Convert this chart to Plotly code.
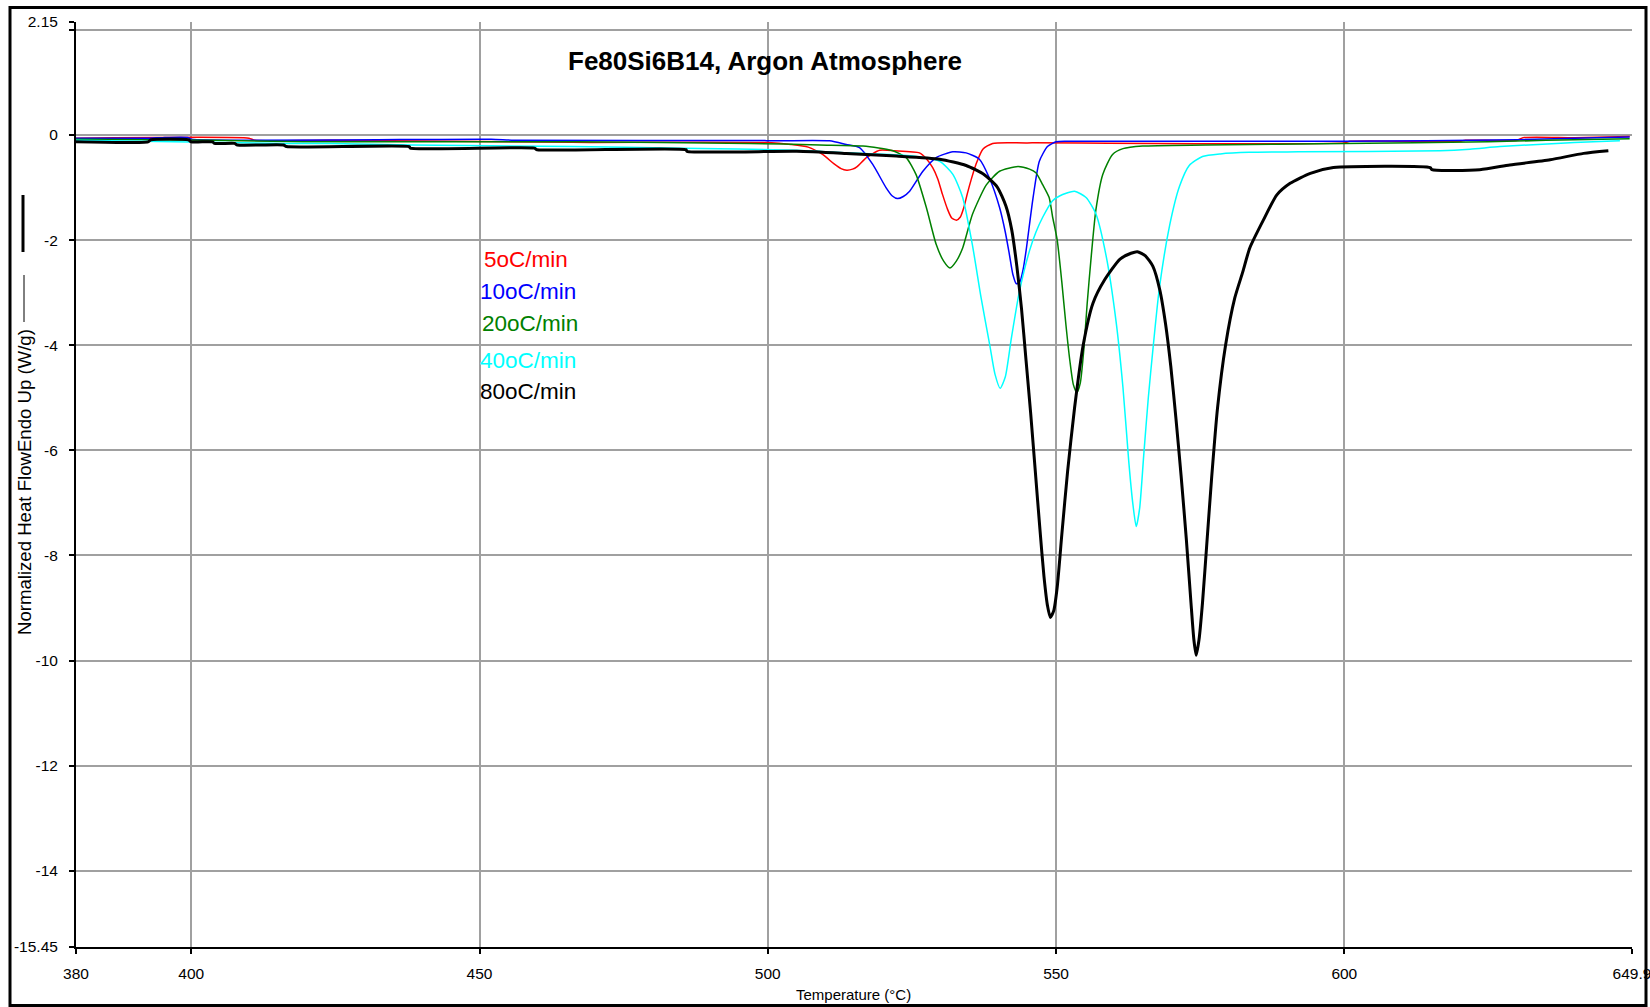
import plotly.graph_objects as go

# ---------------- data ----------------
T_5 = [380, 410, 411, 424, 466, 500, 504, 507, 509.5, 511.5, 512.7, 513.7, 514.7, 515.5, 517.1, 519.4, 522,
       526.3, 527.5, 528.6, 529.5, 530.3, 531.2, 531.9, 532.7, 533.4, 534.0, 534.6, 535.3, 536.1, 537.3,
       539, 545, 600, 601, 620, 621, 630, 631, 640, 649.5]
HF_5 = [-0.06, -0.06, -0.10, -0.10, -0.14, -0.145, -0.18, -0.23, -0.37, -0.55, -0.64, -0.67, -0.65, -0.60,
        -0.43, -0.29, -0.30, -0.34, -0.45, -0.62, -0.84, -1.13, -1.42, -1.58, -1.62, -1.56, -1.38, -1.12,
        -0.84, -0.56, -0.27, -0.16, -0.15, -0.15, -0.12, -0.12, -0.10, -0.10, -0.05, -0.05, -0.03]

T_10 = [380, 392.8, 395, 399.5, 400, 452, 456, 499.5, 500, 510.7, 513.6, 515.9, 518.2, 520.5, 521.6, 522.5,
        523.5, 524.6, 526.9, 529.2, 532.1, 534.4, 536.7, 538.4, 540.2, 541.2, 541.9, 542.5, 543.1, 543.7,
        544.3, 544.8, 546, 547.1, 548.5, 550, 552, 600, 630, 640, 649.5]
HF_10 = [-0.06, -0.06, -0.05, -0.05, -0.08, -0.08, -0.10, -0.105, -0.11, -0.11, -0.18, -0.24, -0.56, -1.0,
         -1.16, -1.21, -1.17, -1.07, -0.69, -0.43, -0.32, -0.34, -0.46, -0.81, -1.38, -1.85, -2.27, -2.65,
         -2.83, -2.80, -2.55, -2.20, -1.2, -0.5, -0.22, -0.13, -0.12, -0.12, -0.09, -0.06, -0.04]

T_20 = [380, 403.7, 414, 424, 467, 497, 509, 516.5, 521.7, 524, 525.7, 527.5, 529.2, 530.5, 531.6, 532.7,
        533.8, 535.5, 537.9, 540.2, 543.4, 545.4, 546.5, 547.7, 548.8, 549.4, 550.2, 551.0, 551.7, 552.4,
        553.0, 553.6, 554.2, 554.8, 555.4, 556.1, 556.9, 558.1, 559.8, 561.6, 565, 576, 600, 625, 635, 649.5]
HF_20 = [-0.08, -0.10, -0.12, -0.13, -0.13, -0.16, -0.19, -0.21, -0.30, -0.43, -0.75, -1.38, -2.08, -2.40,
         -2.53, -2.40, -2.15, -1.51, -0.95, -0.69, -0.60, -0.65, -0.72, -0.95, -1.19, -1.56, -2.0, -2.8,
         -3.6, -4.3, -4.75, -4.90, -4.72, -4.1, -3.2, -2.31, -1.43, -0.75, -0.37, -0.26, -0.21, -0.19, -0.16,
         -0.13, -0.10, -0.07]

T_40 = [380, 416, 424, 438, 466, 485, 505, 513.6, 525.1, 529.8, 532.1, 533.8, 535.5, 537, 538.5, 539.4,
        540.3, 541.2, 542.2, 543.6, 545.4, 546.5, 547.7, 549.4, 550.6, 553.2, 555.2, 556.9, 558.7, 560.4,
        561.6, 562.6, 563.3, 563.9, 564.5, 565.2, 566.0, 566.8, 567.9, 569.7, 571.4, 573.1, 575.4, 578.5,
        583.5, 592, 616.6, 621.8, 627, 636.8, 643.2, 647.8]
HF_40 = [-0.10, -0.16, -0.16, -0.19, -0.22, -0.25, -0.29, -0.34, -0.40, -0.50, -0.75, -1.19, -2.1, -3.1,
         -4.0, -4.55, -4.82, -4.6, -3.9, -3.0, -2.2, -1.85, -1.56, -1.25, -1.16, -1.07, -1.19, -1.50, -2.31,
         -3.54, -4.8, -6.2, -7.0, -7.45, -7.1, -6.1, -5.0, -4.08, -2.93, -1.72, -0.98, -0.58, -0.41, -0.36,
         -0.33, -0.32, -0.30, -0.27, -0.22, -0.16, -0.13, -0.11]

T_80 = [380, 392.5, 393, 399.5, 400, 403.7, 404, 407.5, 408, 416, 416.5, 437.8, 438, 459.5, 460, 485.8,
        486, 505, 513.6, 522.3, 529.8, 534.4, 537.5, 539.8, 541.3, 542.3, 543.2, 544.0, 544.8, 545.6, 546.4,
        547.2, 547.9, 548.5, 549.0, 549.6, 550.2, 551.0, 552.0, 553.2, 554.7, 556.4, 558.4, 561.1, 563, 564.1,
        565.5, 566.8, 568.0, 569.0, 569.9, 570.8, 571.7, 572.6, 573.4, 573.9, 574.3, 574.8, 575.4, 576.2,
        577.0, 578.0, 579.4, 581.0, 582.4, 583.6, 586, 588.3, 590.6, 594.1, 598.1, 614.9, 615.2, 623.5,
        628.7, 635.7, 641.5, 645.8]
HF_80 = [-0.13, -0.13, -0.09, -0.09, -0.13, -0.13, -0.16, -0.16, -0.19, -0.19, -0.22, -0.22, -0.25, -0.25,
         -0.28, -0.28, -0.31, -0.31, -0.35, -0.40, -0.46, -0.58, -0.75, -0.99, -1.35, -1.8, -2.5, -3.3, -4.3,
         -5.3, -6.4, -7.5, -8.4, -8.95, -9.18, -9.05, -8.6, -7.6, -6.4, -5.2, -4.0, -3.2, -2.76, -2.36, -2.25,
         -2.22, -2.3, -2.5, -2.95, -3.6, -4.4, -5.4, -6.5, -7.7, -8.9, -9.6, -9.9, -9.6, -8.9, -7.7, -6.5,
         -5.2, -4.0, -3.1, -2.6, -2.15, -1.61, -1.14, -0.92, -0.73, -0.62, -0.62, -0.66, -0.66, -0.57, -0.47,
         -0.35, -0.30]

series_names = ["5oC/min", "10oC/min", "20oC/min", "40oC/min", "80oC/min"]
series_T = [T_5, T_10, T_20, T_40, T_80]
series_HF = [HF_5, HF_10, HF_20, HF_40, HF_80]
series_colors = ["#ff0000", "#0000ff", "#008000", "#00ffff", "#000000"]
series_widths = [1.5, 1.5, 1.5, 1.5, 3]

x_ticks = [380, 400, 450, 500, 550, 600, 649.9]
x_tick_text = ["380", "400", "450", "500", "550", "600", "649.9"]
y_ticks = [2.15, 2, 0, -2, -4, -6, -8, -10, -12, -14, -15.45]
y_tick_text = ["2.15", "", "0", "-2", "-4", "-6", "-8", "-10", "-12", "-14", "-15.45"]

title_text = "Fe80Si6B14, Argon Atmosphere"
x_title = "Temperature (°C)"
y_title = "Normalized Heat FlowEndo Up (W/g)"

# ---------------- layout helpers ----------------
W, H = 1650, 1007
ML, MR, MT, MB = 76, 18, 22, 60
PW, PH = W - ML - MR, H - MT - MB


def px(xp):
    return (xp - ML) / PW


def py(yp):
    return (H - MB - yp) / PH


SANS = "Liberation Sans, Arial, sans-serif"

fig = go.Figure()
for name, xs, ys, c, w in zip(series_names, series_T, series_HF, series_colors, series_widths):
    fig.add_trace(go.Scatter(x=xs, y=ys, mode="lines", name=name,
                             line=dict(color=c, width=w, shape="spline", smoothing=0.6),
                             showlegend=False))

fig.update_layout(
    width=W, height=H,
    margin=dict(l=ML, r=MR, t=MT, b=MB, pad=0, autoexpand=False),
    paper_bgcolor="white", plot_bgcolor="white",
    showlegend=False,
    font=dict(family=SANS, size=15, color="black"),
)
fig.update_xaxes(range=[380, 649.9], tickvals=x_ticks, ticktext=x_tick_text,
                 showgrid=True, gridcolor="#a0a0a0", gridwidth=1.5, zeroline=False,
                 showline=True, linecolor="black", linewidth=2,
                 ticks="outside", ticklen=5, tickcolor="black", tickwidth=1.5,
                 tickfont=dict(family=SANS, size=15.5, color="black"), ticklabelstandoff=6,
                 ticklabeloverflow="allow", automargin=False)
fig.update_yaxes(range=[-15.45, 2.15], tickvals=y_ticks, ticktext=y_tick_text,
                 showgrid=True, gridcolor="#a0a0a0", gridwidth=1.5, zeroline=False,
                 showline=True, linecolor="black", linewidth=2,
                 ticks="outside", ticklen=5, tickcolor="black", tickwidth=1.5,
                 tickfont=dict(family=SANS, size=15.5, color="black"), ticklabelstandoff=8,
                 ticklabeloverflow="allow", automargin=False)

anns = []
# title
anns.append(dict(text="<b>" + title_text + "</b>", x=px(765), y=py(61), xref="paper", yref="paper",
                 xanchor="center", yanchor="middle", showarrow=False,
                 font=dict(family=SANS, size=26, color="black")))
# x axis title
anns.append(dict(text=x_title, x=px(853), y=py(995), xref="paper", yref="paper",
                 xanchor="center", yanchor="middle", showarrow=False,
                 font=dict(family=SANS, size=15, color="black")))
# y axis title (rotated)
anns.append(dict(text=y_title, x=px(24), y=py(637), xref="paper", yref="paper",
                 xanchor="center", yanchor="bottom", textangle=-90, showarrow=False,
                 font=dict(family=SANS, size=18.6, color="black")))
# legend-like labels
legend_y = [259, 291, 323, 360, 391]
legend_x = [482, 478, 480, 478, 478]
for name, c, lx, ly in zip(series_names, series_colors, legend_x, legend_y):
    anns.append(dict(text=name, x=px(lx), y=py(ly), xref="paper", yref="paper",
                     xanchor="left", yanchor="middle", showarrow=False,
                     font=dict(family=SANS, size=22.5, color=c)))
fig.update_layout(annotations=anns)

shapes = [
    # outer frame
    dict(type="rect", xref="paper", yref="paper", x0=px(10), x1=px(1646), y0=py(1005.5), y1=py(7.5),
         line=dict(color="black", width=3), fillcolor="rgba(0,0,0,0)"),
    # line sample next to y title
    dict(type="line", xref="paper", yref="paper", x0=px(24), x1=px(24), y0=py(322), y1=py(275),
         line=dict(color="black", width=1)),
    dict(type="line", xref="paper", yref="paper", x0=px(23), x1=px(23), y0=py(252), y1=py(195),
         line=dict(color="black", width=3)),
]
fig.update_layout(shapes=shapes)

fig.write_html("out.html")
